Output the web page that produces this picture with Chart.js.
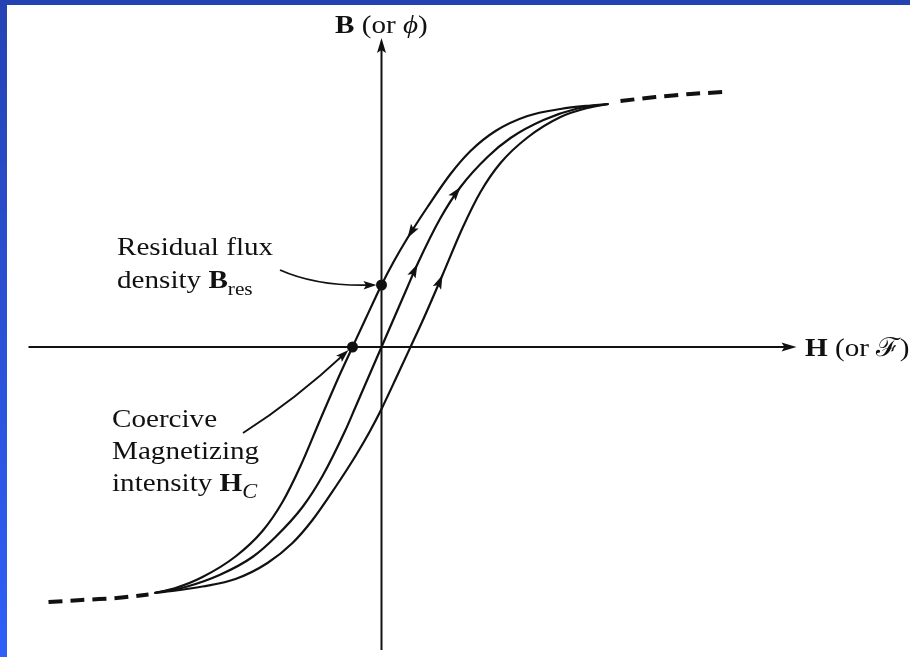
<!DOCTYPE html>
<html>
<head>
<meta charset="utf-8">
<script src="https://cdn.jsdelivr.net/npm/chart.js@4.4.1/dist/chart.umd.min.js"></script>
<style>
  html, body { margin: 0; padding: 0; }
  body {
    width: 910px; height: 657px; overflow: hidden; position: relative;
    background: linear-gradient(to bottom, #2443b3, #2f5ff8);
  }
  #paper { position: absolute; left: 7px; top: 5px; right: 0; bottom: 0; background: #fff; }
  #wrap { position: absolute; left: 0; top: 0; width: 910px; height: 657px; }
</style>
</head>
<body>
<div id="paper"></div>
<div id="wrap"><canvas id="hystChart" width="910" height="657"></canvas></div>
<script>
// Curvas: H (horizontal) y B (vertical), en unidades del dibujo
const branchDown = [
    [-2.27, -2.46], [-2.06, -2.41], [-1.79, -2.30], [-1.46, -2.095], [-1.19, -1.84],
    [-0.99, -1.55], [-0.81, -1.19], [-0.61, -0.72], [-0.41, -0.26], [-0.29, 0],
    [-0.16, 0.28], [0, 0.62], [0.12, 0.85], [0.26, 1.09], [0.46, 1.40],
    [0.69, 1.73], [0.89, 1.96], [1.14, 2.16], [1.46, 2.31], [1.79, 2.38],
    [2.09, 2.415], [2.27, 2.43]
];
const branchUp = [
    [-2.27, -2.46], [-2.09, -2.44], [-1.79, -2.395], [-1.46, -2.32], [-1.14, -2.16],
    [-0.89, -1.96], [-0.69, -1.73], [-0.46, -1.40], [-0.26, -1.09], [-0.12, -0.85],
    [0, -0.62], [0.16, -0.28], [0.29, 0], [0.41, 0.26], [0.61, 0.72],
    [0.81, 1.19], [0.99, 1.55], [1.19, 1.84], [1.46, 2.095], [1.79, 2.30],
    [2.06, 2.39], [2.27, 2.43]
];
const initialCurve = [
    [-2.27, -2.46], [-1.96, -2.40], [-1.62, -2.28], [-1.29, -2.10], [-1.06, -1.90],
    [-0.79, -1.60], [-0.59, -1.29], [-0.36, -0.83], [-0.26, -0.60], [-0.13, -0.30],
    [0, 0], [0.13, 0.30], [0.26, 0.60], [0.36, 0.83], [0.59, 1.29],
    [0.79, 1.60], [1.06, 1.90], [1.29, 2.09], [1.62, 2.27], [1.96, 2.385],
    [2.27, 2.43]
];
const saturationTop = [[2.39, 2.46], [2.74, 2.50], [3.09, 2.53], [3.42, 2.55]];
const saturationBottom = [[-3.33, -2.55], [-3.00, -2.53], [-2.65, -2.51], [-2.33, -2.475]];
const residualPoint = [[0, 0.62]];
const coercivePoint = [[-0.29, 0]];

// Limites de los ejes
const hLimits = [-3.815, 5.285];
const bLimits = [-3.10, 3.47];
const hAxisSpan = [-3.53, 4.15];
const bAxisSpan = [-3.03, 3.09];

// Flechas de sentido sobre las curvas: dataset, indice del punto, sentido
const flowArrows = [
    { ds: 0, i: 13, dir: -1 },
    { ds: 1, i: 14, dir: 1 },
    { ds: 2, i: 13, dir: 1 },
    { ds: 2, i: 15, dir: 1 }
];

const SERIF = '"Liberation Serif", "DejaVu Serif", serif';
const STRETCH = 1.12;
const INK = '#111';

const toXY = arr => arr.map(([x, y]) => ({ x, y }));

function arrowHead(ctx, x, y, angle, len, half) {
    ctx.save();
    ctx.translate(x, y);
    ctx.rotate(angle);
    ctx.beginPath();
    ctx.moveTo(0, 0);
    ctx.lineTo(-len, -half);
    ctx.lineTo(-len * 0.8, 0);
    ctx.lineTo(-len, half);
    ctx.closePath();
    ctx.fill();
    ctx.restore();
}

function drawRuns(ctx, x, y, runs) {
    ctx.save();
    ctx.translate(x, y);
    ctx.scale(STRETCH, 1);
    let cx = 0;
    runs.forEach(r => {
        ctx.font = r.font;
        ctx.fillText(r.text, cx, r.dy || 0);
        cx += ctx.measureText(r.text).width;
    });
    ctx.restore();
}

const axesPlugin = {
    id: 'axesPlugin',
    beforeDatasetsDraw(chart) {
        const { ctx, scales: { x, y } } = chart;
        const x0 = x.getPixelForValue(0);
        const y0 = y.getPixelForValue(0);
        ctx.save();
        ctx.strokeStyle = INK;
        ctx.fillStyle = INK;
        ctx.lineWidth = 2;
        ctx.beginPath();
        ctx.moveTo(x.getPixelForValue(hAxisSpan[0]), y0);
        ctx.lineTo(x.getPixelForValue(hAxisSpan[1]) - 6, y0);
        ctx.moveTo(x0, y.getPixelForValue(bAxisSpan[0]));
        ctx.lineTo(x0, y.getPixelForValue(bAxisSpan[1]) + 6);
        ctx.stroke();
        arrowHead(ctx, x.getPixelForValue(hAxisSpan[1]), y0, 0, 15, 4.5);
        arrowHead(ctx, x0, y.getPixelForValue(bAxisSpan[1]), -Math.PI / 2, 15, 4.5);
        ctx.restore();
    }
};

const notesPlugin = {
    id: 'notesPlugin',
    afterDatasetsDraw(chart) {
        const { ctx, scales: { x, y } } = chart;
        ctx.save();
        ctx.fillStyle = INK;
        ctx.strokeStyle = INK;

        // flechas de recorrido
        flowArrows.forEach(a => {
            const pts = chart.getDatasetMeta(a.ds).data;
            const p = pts[a.i];
            const prev = pts[a.i - a.dir];
            const next = pts[a.i + a.dir];
            const ang = Math.atan2(next.y - prev.y, next.x - prev.x);
            arrowHead(ctx, p.x, p.y, ang, 14, 4.5);
        });

        // anotacion de B_res
        const rx = x.getPixelForValue(residualPoint[0][0]);
        const ry = y.getPixelForValue(residualPoint[0][1]);
        ctx.lineWidth = 1.8;
        ctx.beginPath();
        ctx.moveTo(280, 270);
        ctx.quadraticCurveTo(318, 287, rx - 8, ry);
        ctx.stroke();
        arrowHead(ctx, rx - 5, ry, Math.atan2(ry - 287, rx - 8 - 318) * 0.4, 13, 4.2);

        // anotacion de H_c
        const cx = x.getPixelForValue(coercivePoint[0][0]);
        const cy = y.getPixelForValue(coercivePoint[0][1]);
        ctx.beginPath();
        ctx.moveTo(243, 433);
        ctx.quadraticCurveTo(295, 400, cx - 7, cy + 6);
        ctx.stroke();
        arrowHead(ctx, cx - 4, cy + 3, Math.atan2(cy + 6 - 400, cx - 7 - 295), 13, 4.2);

        // textos
        ctx.textBaseline = 'alphabetic';
        const reg = `26px ${SERIF}`;
        const bold = `bold 26px ${SERIF}`;
        drawRuns(ctx, 117, 255, [{ text: 'Residual flux', font: reg }]);
        drawRuns(ctx, 117, 288, [
            { text: 'density ', font: reg },
            { text: 'B', font: bold },
            { text: 'res', font: `19px ${SERIF}`, dy: 7 }
        ]);
        drawRuns(ctx, 112, 427, [{ text: 'Coercive', font: reg }]);
        drawRuns(ctx, 112, 459, [{ text: 'Magnetizing', font: reg }]);
        drawRuns(ctx, 112, 491, [
            { text: 'intensity ', font: reg },
            { text: 'H', font: bold },
            { text: 'C', font: `italic 20px ${SERIF}`, dy: 7 }
        ]);
        drawRuns(ctx, 335, 33, [
            { text: 'B', font: bold },
            { text: ' (or ', font: reg },
            { text: 'ϕ', font: `italic 26px ${SERIF}` },
            { text: ')', font: reg }
        ]);
        drawRuns(ctx, 805, 356, [
            { text: 'H', font: bold },
            { text: ' (or ', font: reg },
            { text: 'ℱ', font: reg },
            { text: ')', font: reg }
        ]);
        ctx.restore();
    }
};

const curveStyle = {
    showLine: true,
    pointRadius: 0,
    borderColor: INK,
    borderWidth: 2.2,
    cubicInterpolationMode: 'monotone',
    fill: false
};
const dashStyle = {
    showLine: true,
    pointRadius: 0,
    borderColor: INK,
    borderWidth: 4,
    borderDash: [14, 8],
    tension: 0.3,
    fill: false
};

const ctx = document.getElementById('hystChart').getContext('2d');
new Chart(ctx, {
    type: 'scatter',
    data: {
        datasets: [
            { label: 'Rama descendente', data: toXY(branchDown), ...curveStyle },
            { label: 'Rama ascendente', data: toXY(branchUp), ...curveStyle },
            { label: 'Curva inicial', data: toXY(initialCurve), ...curveStyle },
            { label: 'Saturacion +', data: toXY(saturationTop), ...dashStyle },
            { label: 'Saturacion -', data: toXY(saturationBottom), ...dashStyle },
            {
                label: 'Puntos',
                data: toXY(residualPoint.concat(coercivePoint)),
                showLine: false,
                pointRadius: 5.5,
                pointBackgroundColor: INK,
                pointBorderWidth: 0
            }
        ]
    },
    options: {
        responsive: false,
        animation: false,
        layout: { padding: 0, autoPadding: false },
        plugins: {
            legend: { display: false },
            tooltip: { enabled: false }
        },
        scales: {
            x: { type: 'linear', min: hLimits[0], max: hLimits[1], display: false },
            y: { type: 'linear', min: bLimits[0], max: bLimits[1], display: false }
        }
    },
    plugins: [axesPlugin, notesPlugin]
});
</script>
</body>
</html>
